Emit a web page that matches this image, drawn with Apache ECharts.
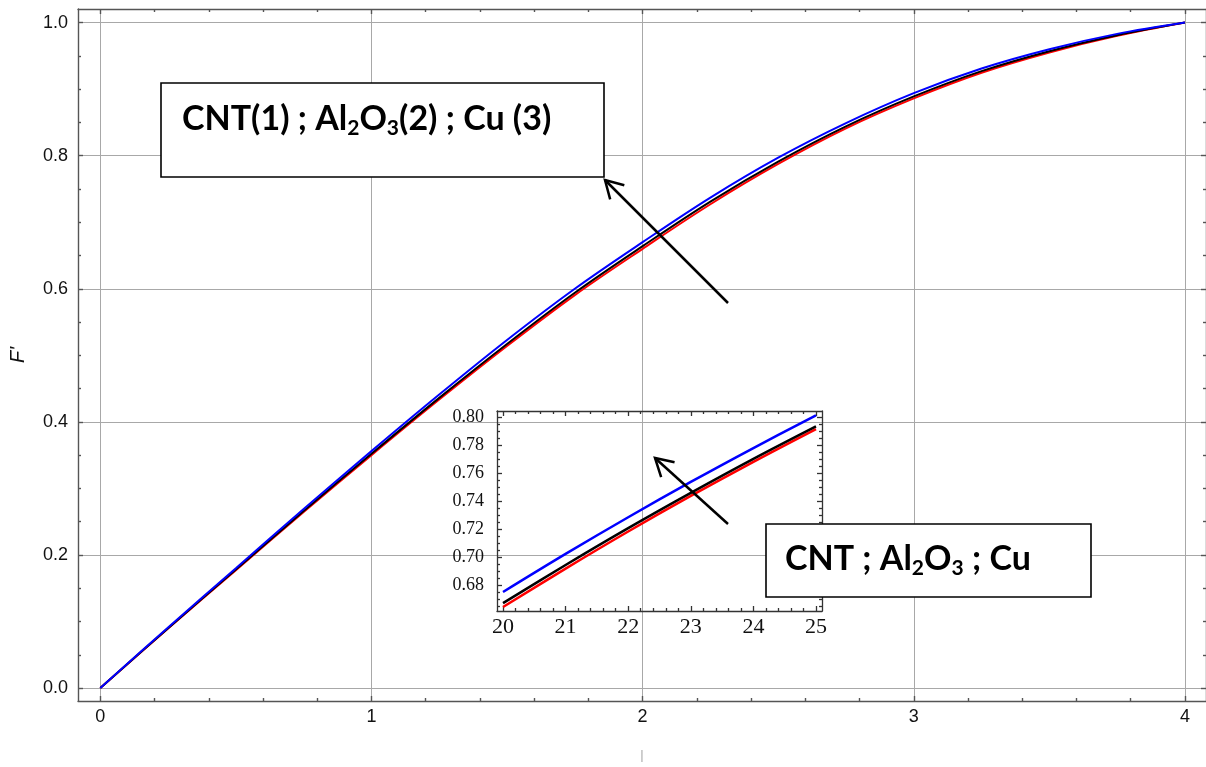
<!DOCTYPE html>
<html>
<head>
<meta charset="utf-8">
<script src="https://cdn.jsdelivr.net/npm/echarts@6/dist/echarts.min.js"></script>
<style>
  html, body { margin: 0; padding: 0; background: #fff; }
  #chart { width: 1206px; height: 767px; }
</style>
</head>
<body>
<div id="chart"></div>
<script>
// Velocity profile F'(eta) for the three nanofluids
const eta      = [0, 0.25, 0.5, 0.75, 1.0, 1.25, 1.5, 1.75, 2.0, 2.25, 2.5, 2.75, 3.0, 3.25, 3.5, 3.75, 4.0];
const fpCNT    = [0, 0.0895, 0.177, 0.2645, 0.350, 0.4335, 0.514, 0.5905, 0.660, 0.727, 0.7875, 0.841, 0.886, 0.9245, 0.955, 0.980, 1.0];
const fpAl2O3  = [0, 0.090, 0.178, 0.266, 0.352, 0.436, 0.517, 0.594, 0.664, 0.731, 0.791, 0.844, 0.889, 0.927, 0.957, 0.981, 1.0];
const fpCu     = [0, 0.091, 0.180, 0.269, 0.356, 0.441, 0.523, 0.600, 0.670, 0.737, 0.797, 0.849, 0.894, 0.931, 0.960, 0.983, 1.0];

// Enlarged detail
const zoomEta    = [20, 21, 22, 23, 24, 25];
const zoomCNT    = [0.6643, 0.6917, 0.7182, 0.7436, 0.7680, 0.7914];
const zoomAl2O3  = [0.6671, 0.6943, 0.7206, 0.7458, 0.7701, 0.7933];
const zoomCu     = [0.6750, 0.7022, 0.7284, 0.7536, 0.7778, 0.8012];

// Tick labels
const mainXTicks = [0, 1, 2, 3, 4];
const mainYTicks = [0, 0.2, 0.4, 0.6, 0.8, 1.0];
const zoomXTicks = [20, 21, 22, 23, 24, 25];
const zoomYTicks = [0.68, 0.70, 0.72, 0.74, 0.76, 0.78, 0.80];

function minorValues(lo, hi, step, majorStep) {
  const out = [];
  const n = Math.round((hi - lo) / step);
  for (let i = 0; i <= n; i++) {
    const v = Math.round((lo + i * step) * 1e6) / 1e6;
    const q = v / majorStep;
    if (Math.abs(q - Math.round(q)) > 1e-6) out.push(v);
  }
  return out;
}
const mainXMinor = minorValues(0, 4, 0.2, 1);
const mainYMinor = minorValues(0, 1, 0.05, 0.2);
const zoomXMinor = minorValues(20, 25, 0.2, 1);
const zoomYMinor = minorValues(0.665, 0.80, 0.005, 0.02);

const MAIN_X = [-0.0822, 4.0777];
const MAIN_Y = [-0.0195, 1.0204];
const ZOOM_X = [19.904, 25.096];
const ZOOM_Y = [0.66143, 0.80429];

const frameMain = { color: '#555', width: 1.4 };
const frameZoom = { color: '#333', width: 1.3 };
const gridStyle = { color: '#a8a8a8', width: 1 };

function axis(dim, o) {
  const a = {
    type: 'value',
    gridIndex: o.grid,
    position: o.pos,
    min: o.range[0],
    max: o.range[1],
    axisLine: { show: !!o.line, onZero: false, lineStyle: o.frame },
    axisTick: { show: true, inside: true, length: o.len, customValues: o.ticks, lineStyle: o.frame },
    axisLabel: { show: false },
    splitLine: { show: !!o.split, lineStyle: gridStyle },
    minorTick: { show: false },
    z: o.z || 2
  };
  if (o.labels) {
    a.axisLabel = Object.assign({ show: true, customValues: o.ticks }, o.labels);
  }
  if (o.name) Object.assign(a, o.name);
  return a;
}

const mainLabel = { color: '#111', fontFamily: 'Liberation Sans', fontSize: 18 };
const zoomLabelBase = { color: '#111', fontFamily: 'Liberation Serif' };

const xAxes = [
  axis('x', { grid: 0, pos: 'bottom', range: MAIN_X, line: true, frame: frameMain, len: 5, ticks: mainXTicks, split: true,
    labels: Object.assign({ margin: 7, formatter: v => String(v) }, mainLabel),
    name: { name: '|', nameLocation: 'middle', nameGap: 48, nameTextStyle: { color: '#aaa', fontSize: 13, fontFamily: 'Liberation Sans' } } }),
  axis('x', { grid: 0, pos: 'bottom', range: MAIN_X, frame: frameMain, len: 3, ticks: mainXMinor }),
  axis('x', { grid: 0, pos: 'top', range: MAIN_X, line: true, frame: frameMain, len: 5, ticks: mainXTicks }),
  axis('x', { grid: 0, pos: 'top', range: MAIN_X, frame: frameMain, len: 3, ticks: mainXMinor }),
  axis('x', { grid: 1, pos: 'bottom', range: ZOOM_X, line: true, frame: frameZoom, len: 5, ticks: zoomXTicks, z: 5,
    labels: Object.assign({ margin: 5, fontSize: 22, formatter: v => String(v) }, zoomLabelBase) }),
  axis('x', { grid: 1, pos: 'bottom', range: ZOOM_X, frame: frameZoom, len: 3, ticks: zoomXMinor, z: 5 }),
  axis('x', { grid: 1, pos: 'top', range: ZOOM_X, line: true, frame: frameZoom, len: 5, ticks: zoomXTicks, z: 5 }),
  axis('x', { grid: 1, pos: 'top', range: ZOOM_X, frame: frameZoom, len: 3, ticks: zoomXMinor, z: 5 })
];

const yAxes = [
  axis('y', { grid: 0, pos: 'left', range: MAIN_Y, line: true, frame: frameMain, len: 5, ticks: mainYTicks, split: true,
    labels: Object.assign({ margin: 10, formatter: v => v.toFixed(1) }, mainLabel),
    name: { name: "F'", nameLocation: 'middle', nameGap: 50, nameRotate: 90,
      nameTextStyle: { color: '#111', fontSize: 20, fontStyle: 'italic', fontFamily: 'Liberation Sans' } } }),
  axis('y', { grid: 0, pos: 'left', range: MAIN_Y, frame: frameMain, len: 3, ticks: mainYMinor }),
  axis('y', { grid: 0, pos: 'right', range: MAIN_Y, line: true, frame: frameMain, len: 5, ticks: mainYTicks }),
  axis('y', { grid: 0, pos: 'right', range: MAIN_Y, frame: frameMain, len: 3, ticks: mainYMinor }),
  axis('y', { grid: 1, pos: 'left', range: ZOOM_Y, line: true, frame: frameZoom, len: 5, ticks: zoomYTicks, z: 5,
    labels: Object.assign({ margin: 13, fontSize: 18, formatter: v => v.toFixed(2) }, zoomLabelBase) }),
  axis('y', { grid: 1, pos: 'left', range: ZOOM_Y, frame: frameZoom, len: 3, ticks: zoomYMinor, z: 5 }),
  axis('y', { grid: 1, pos: 'right', range: ZOOM_Y, line: true, frame: frameZoom, len: 5, ticks: zoomYTicks, z: 5 }),
  axis('y', { grid: 1, pos: 'right', range: ZOOM_Y, frame: frameZoom, len: 3, ticks: zoomYMinor, z: 5 })
];

function pairs(xs, ys) { return xs.map((x, i) => [x, ys[i]]); }

function curve(name, xs, ys, color, idx, width) {
  return {
    name: name, type: 'line', xAxisIndex: idx, yAxisIndex: idx,
    data: pairs(xs, ys), showSymbol: false, symbol: 'none', smooth: 0.35,
    lineStyle: { color: color, width: width }, silent: true, z: idx === 0 ? 3 : 6
  };
}

// Straight arrow with an open V head at (x2, y2)
function arrow(x1, y1, x2, y2, head) {
  const ang = Math.atan2(y1 - y2, x1 - x2);
  const spread = Math.PI / 6;
  const a1 = [x2 + head * Math.cos(ang + spread), y2 + head * Math.sin(ang + spread)];
  const a2 = [x2 + head * Math.cos(ang - spread), y2 + head * Math.sin(ang - spread)];
  const st = { stroke: '#000', lineWidth: 2.5, fill: null };
  return [
    { type: 'polyline', z: 100, shape: { points: [[x1, y1], [x2, y2]] }, style: st },
    { type: 'polyline', z: 100, shape: { points: [a1, [x2, y2], a2] }, style: st }
  ];
}

const boxFont = 'Lato, "Open Sans", sans-serif';
const rich = {
  a: { fontFamily: boxFont, fontWeight: 'bold', fontSize: 34, lineHeight: 40, fill: '#000' },
  s: { fontFamily: boxFont, fontWeight: 'bold', fontSize: 21, lineHeight: 18, verticalAlign: 'bottom', fill: '#000' }
};

const chart = echarts.init(document.getElementById('chart'), null, { renderer: 'canvas' });
chart.setOption({
  animation: false,
  backgroundColor: '#fff',
  grid: [
    { left: 77, top: 9, right: 0, bottom: 64 },
    { left: 497, top: 411, right: 384, bottom: 156 }
  ],
  xAxis: xAxes,
  yAxis: yAxes,
  series: [
    curve('CNT', eta, fpCNT, '#ff0000', 0, 2),
    curve('Al2O3', eta, fpAl2O3, '#000000', 0, 2),
    curve('Cu', eta, fpCu, '#0000ff', 0, 2),
    curve('CNT', zoomEta, zoomCNT, '#ff0000', 4, 2.5),
    curve('Al2O3', zoomEta, zoomAl2O3, '#000000', 4, 2.5),
    curve('Cu', zoomEta, zoomCu, '#0000ff', 4, 2.5)
  ],
  graphic: [
    { type: 'rect', z: 90, shape: { x: 161, y: 83, width: 443, height: 94 },
      style: { fill: '#fff', stroke: '#000', lineWidth: 1.6 } },
    { type: 'text', z: 91, x: 182, y: 119,
      style: { text: '{a|CNT(1) ; Al}{s|2}{a|O}{s|3}{a|(2) ; Cu (3)}', rich: rich, verticalAlign: 'middle' } },
    { type: 'rect', z: 90, shape: { x: 766, y: 524, width: 325, height: 73 },
      style: { fill: '#fff', stroke: '#000', lineWidth: 1.6 } },
    { type: 'text', z: 91, x: 785, y: 559,
      style: { text: '{a|CNT ; Al}{s|2}{a|O}{s|3}{a| ; Cu}', rich: rich, verticalAlign: 'middle' } }
  ].concat(arrow(728, 303, 605, 180, 20), arrow(728, 524, 655, 458, 20))
});
</script>
</body>
</html>
